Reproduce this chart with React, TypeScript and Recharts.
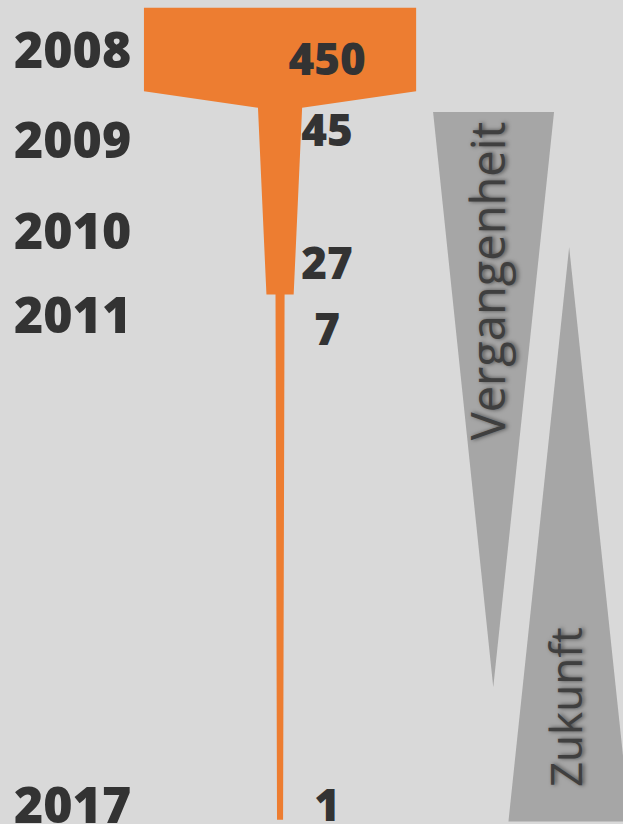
import React from 'react';
import { ComposedChart, Area, Line, XAxis, YAxis, LabelList, ReferenceDot, Label } from 'recharts';

if (typeof document !== 'undefined') document.body.style.margin = '0';

const years = [2008, 2009, 2010, 2011, 2017];
const values = [450, 45, 27, 7, 1];

// funnel outline: where each stage starts / ends (year) and its drawn width
const funnelAt = [2007.39, 2008.39, 2008.59, 2010.83, 2010.83, 2017.13];
const funnelWidth = [450, 450, 73, 45, 15, 10];

// grey wedges: past narrows down, future opens up
const pastAt = [2008.64, 2015.54];
const pastFrom = [253, 352.5];
const pastTo = [453, 352.5];
const futureAt = [2010.26, 2017.15];
const futureFrom = [478, 377.6];
const futureTo = [478, 578.5];

const ORANGE = '#ED7D31';
const GREY = '#A6A6A6';
const INK = '#333333';

const funnelData = funnelAt.map((y, i) => ({ y, band: [-funnelWidth[i] / 2, funnelWidth[i] / 2] }));
const pastData = pastAt.map((y, i) => ({ y, band: [pastFrom[i], pastTo[i]] }));
const futureData = futureAt.map((y, i) => ({ y, band: [futureFrom[i], futureTo[i]] }));
const labelData = years.map((y, i) => ({ y, mid: 0, year: y, value: values[i] }));

// hand placed labels in the original, small nudges from the year position
const YEAR_NUDGE = [-9, -2, 6, 6, -4];
const VALUE_NUDGE = [0, -12, 38, 20, -4];

const YearLabel = (props: any) => {
  const { y, value } = props;
  const i = years.indexOf(value);
  return (
    <text x={14} y={y + (YEAR_NUDGE[i] ?? 0) + 18} fill={INK} fontFamily="'Open Sans', sans-serif" fontWeight={800} fontSize={50} textAnchor="start">
      {value}
    </text>
  );
};

const ValueLabel = (props: any) => {
  const { x, y, value } = props;
  const i = values.indexOf(value);
  return (
    <text x={x + 47} y={y + (VALUE_NUDGE[i] ?? 0) + 16} fill={INK} fontFamily="'Open Sans', sans-serif" fontWeight={800} fontSize={44} textAnchor="middle">
      {value}
    </text>
  );
};

const SideText = (text: string, size: number) => (props: any) => {
  const { viewBox } = props;
  const cx = viewBox.x + viewBox.width / 2;
  const cy = viewBox.y + viewBox.height / 2;
  return (
    <text
      x={cx}
      y={cy}
      transform={`rotate(-90 ${cx} ${cy})`}
      textAnchor="middle"
      fill="#3F3F3F"
      fontFamily="'Open Sans', sans-serif"
      fontSize={size}
      style={{ textShadow: '0 2px 4px rgba(0,0,0,0.55)' }}
    >
      {text}
    </text>
  );
};

export default function App() {
  return (
    <div style={{ width: 623, height: 824, background: '#D9D9D9', overflow: 'hidden' }}>
      <ComposedChart width={623} height={824} layout="vertical" margin={{ top: 0, right: 0, bottom: 0, left: 0 }}>
        <XAxis type="number" domain={[-463, 567]} allowDataOverflow hide />
        <YAxis type="number" dataKey="y" domain={[2007.296, 2017.181]} allowDataOverflow hide />
        <Area data={pastData} dataKey="band" type="linear" fill={GREY} fillOpacity={1} stroke="none" dot={false} activeDot={false} isAnimationActive={false} />
        <Area data={futureData} dataKey="band" type="linear" fill={GREY} fillOpacity={1} stroke="none" dot={false} activeDot={false} isAnimationActive={false} />
        <Area data={funnelData} dataKey="band" type="linear" fill={ORANGE} fillOpacity={1} stroke="none" dot={false} activeDot={false} isAnimationActive={false} />
        <Line data={labelData} dataKey="mid" stroke="none" dot={false} activeDot={false} isAnimationActive={false}>
          <LabelList dataKey="year" content={<YearLabel />} />
          <LabelList dataKey="value" content={<ValueLabel />} />
        </Line>
        <ReferenceDot x={372} y={2010.667} r={0} fill="none" stroke="none" ifOverflow="visible">
          <Label content={SideText('Vergangenheit', 47)} />
        </ReferenceDot>
        <ReferenceDot x={499} y={2015.78} r={0} fill="none" stroke="none" ifOverflow="visible">
          <Label content={SideText('Zukunft', 44)} />
        </ReferenceDot>
      </ComposedChart>
    </div>
  );
}
